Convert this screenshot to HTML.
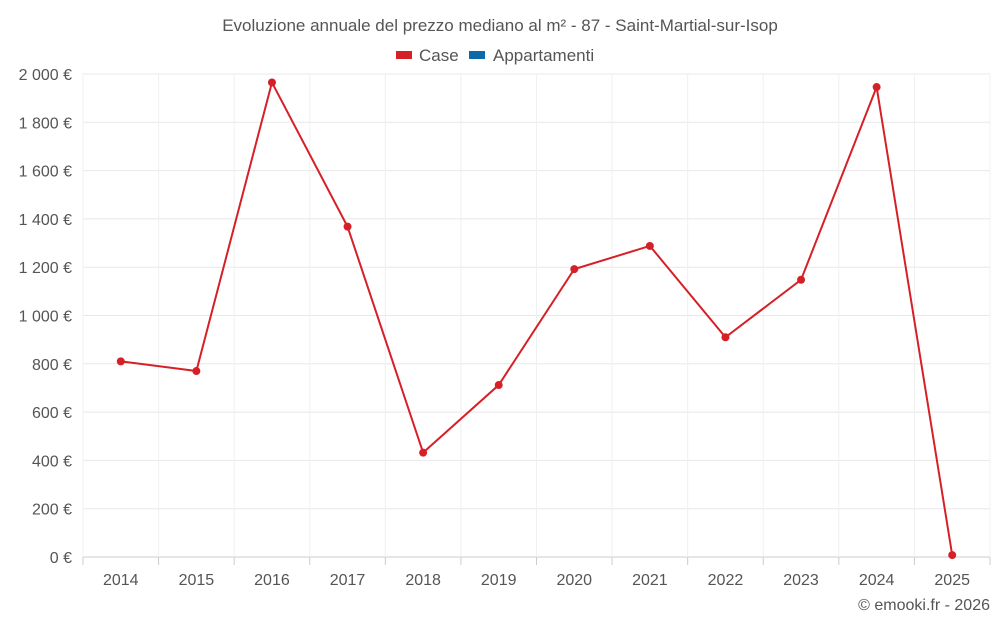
<!DOCTYPE html>
<html><head><meta charset="utf-8"><style>
body{margin:0;background:#fff;font-family:"Liberation Sans",sans-serif;}
svg text{font-family:"Liberation Sans",sans-serif;fill:#555;}
</style></head><body>
<svg id="chart" width="1000" height="625">
<text x="500" y="31" text-anchor="middle" font-size="17">Evoluzione annuale del prezzo mediano al m² - 87 - Saint-Martial-sur-Isop</text>
<g><rect x="396" y="51" width="16" height="8" fill="#d62027"/><text x="419" y="61" font-size="17">Case</text></g>
<g><rect x="469" y="51" width="16" height="8" fill="#0d6aa8"/><text x="493" y="61" font-size="17">Appartamenti</text></g>
<g id="grid"></g><g id="axes"></g><g id="series"></g>
<text x="990" y="610" text-anchor="end" font-size="16">© emooki.fr - 2026</text>
</svg>
<script>
const categories=["2014","2015","2016","2017","2018","2019","2020","2021","2022","2023","2024","2025"];
const caseValues=[810,770,1965,1368,432,712,1192,1288,910,1148,1946,8];
const yTicks=[0,200,400,600,800,1000,1200,1400,1600,1800,2000];
const yTickLabels=["0 €","200 €","400 €","600 €","800 €","1 000 €","1 200 €","1 400 €","1 600 €","1 800 €","2 000 €"];
const L=83,R=990,T=74,B=557,ns="http://www.w3.org/2000/svg";
const bw=(R-L)/categories.length;
const x=i=>L+bw*(i+0.5);
const y=v=>B-(v/2000)*(B-T);
function mk(t,a,p){const e=document.createElementNS(ns,t);for(const k in a)e.setAttribute(k,a[k]);p.appendChild(e);return e;}
const g=document.getElementById('grid'),ax=document.getElementById('axes'),s=document.getElementById('series');
yTicks.forEach((v,i)=>{
 const l=mk('line',{x1:L,x2:R,y1:y(v),y2:y(v),stroke:v===0?'#ccc':'#e8e8e8'},g);
 
 
 const t=mk('text',{x:72,y:y(v)+6,'text-anchor':'end','font-size':16},ax);
 t.textContent=yTickLabels[i];
 
 
});
for(let i=0;i<=categories.length;i++){
 const xx=L+bw*i;
 const l=mk('line',{x1:xx,x2:xx,y1:T,y2:B,stroke:'#f0f0f0'},g);
 
 
 const tk=mk('line',{x1:xx,x2:xx,y1:B,y2:B+8,stroke:'#ccc'},ax);
 
 
}
categories.forEach((c,i)=>{
 const t=mk('text',{x:x(i),y:585,'text-anchor':'middle','font-size':16},ax);
 t.textContent=c;
 
 
});
const p=mk('polyline',{points:caseValues.map((v,i)=>x(i)+','+y(v)).join(' '),fill:'none',stroke:'#d62027','stroke-width':2},s);


caseValues.forEach((v,i)=>{
 const c=mk('circle',{cx:x(i),cy:y(v),r:4,fill:'#d62027'},s);
 
 
});
</script>
</body></html>
